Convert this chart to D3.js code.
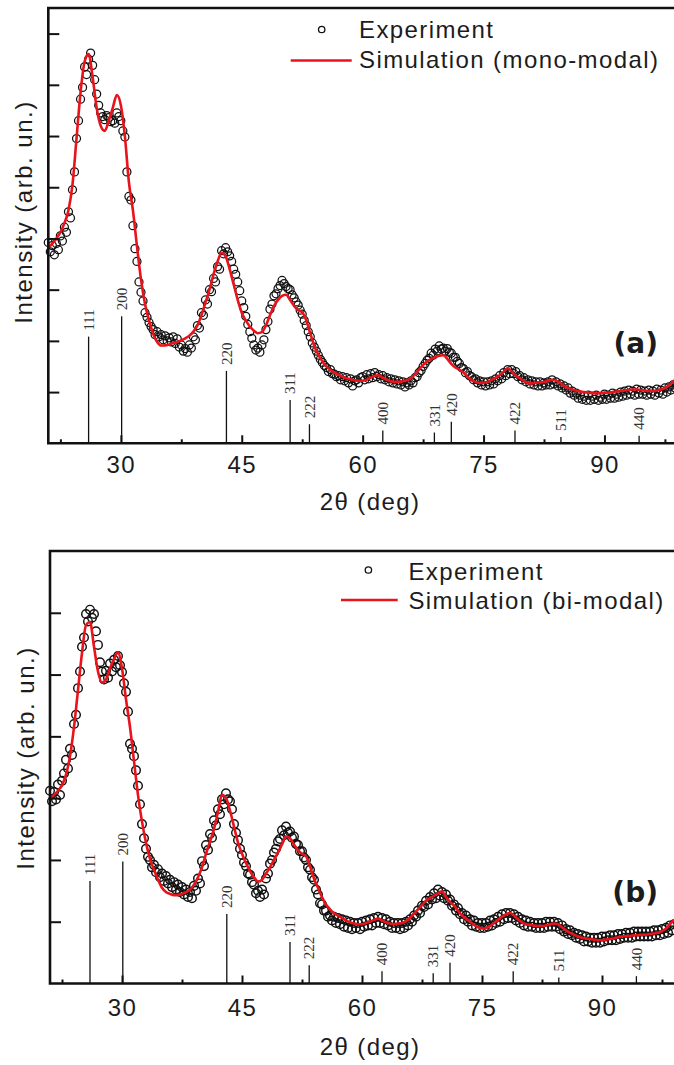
<!DOCTYPE html>
<html>
<head>
<meta charset="utf-8">
<script src="https://cdn.jsdelivr.net/npm/d3@7"></script>
<style>
  body { margin: 0; background: #fff; }
  svg { display: block; }
</style>
</head>
<body>
<div id="app"></div>
<script>
// measured patterns, 2theta grid 21..99
var expStart = 21, expStep = 0.25;
var simStart = 21, simStep = 0.5;

var expTop = [
  3.92, 3.74, 3.86, 3.68, 3.90, 3.78, 4.05, 3.95,
  4.22, 4.12, 4.52, 4.40, 4.95, 5.30, 5.95, 6.30,
  6.72, 6.95, 7.35, 7.20, 7.50, 7.62, 7.38, 7.10,
  6.82, 6.60, 6.45, 6.38, 6.32, 6.40, 6.36, 6.28,
  6.30, 6.25, 6.45, 6.38, 6.30, 6.10, 5.98, 5.30,
  4.82, 4.75, 4.25, 3.80, 3.55, 3.15, 2.95, 2.78,
  2.55, 2.46, 2.36, 2.28, 2.22, 2.12, 2.18, 2.08,
  2.12, 2.02, 2.10, 2.00, 2.06, 1.98, 2.08, 1.95,
  2.04, 1.88, 1.92, 1.80, 1.85, 1.78, 1.92, 1.86,
  2.08, 2.02, 2.30, 2.25, 2.55, 2.50, 2.80, 2.72,
  3.00, 2.96, 3.22, 3.15, 3.45, 3.40, 3.76, 3.70,
  3.82, 3.74, 3.66, 3.55, 3.40, 3.30, 3.15, 2.98,
  2.78, 2.65, 2.48, 2.32, 2.18, 2.05, 1.92, 1.82,
  1.86, 1.78, 1.92, 2.02, 2.22, 2.38, 2.62, 2.72,
  2.88, 2.92, 3.02, 3.08, 3.18, 3.12, 3.06, 3.02,
  3.00, 2.90, 2.84, 2.76, 2.70, 2.60, 2.52, 2.40,
  2.30, 2.18, 2.08, 1.96, 1.88, 1.80, 1.72, 1.64,
  1.58, 1.52, 1.48, 1.40, 1.44, 1.36, 1.35, 1.30,
  1.32, 1.24, 1.30, 1.22, 1.28, 1.18, 1.26, 1.12,
  1.22, 1.24, 1.18, 1.28, 1.30, 1.24, 1.34, 1.26,
  1.36, 1.28, 1.38, 1.30, 1.34, 1.26, 1.32, 1.24,
  1.28, 1.20, 1.26, 1.18, 1.24, 1.16, 1.22, 1.14,
  1.20, 1.10, 1.18, 1.14, 1.22, 1.18, 1.28, 1.30,
  1.38, 1.42, 1.50, 1.56, 1.62, 1.66, 1.76, 1.72,
  1.84, 1.80, 1.90, 1.84, 1.86, 1.80, 1.85, 1.78,
  1.76, 1.68, 1.68, 1.60, 1.56, 1.48, 1.46, 1.38,
  1.40, 1.32, 1.30, 1.24, 1.26, 1.18, 1.22, 1.14,
  1.20, 1.12, 1.20, 1.14, 1.22, 1.16, 1.26, 1.22,
  1.32, 1.26, 1.38, 1.32, 1.44, 1.36, 1.44, 1.36,
  1.40, 1.30, 1.32, 1.24, 1.28, 1.20, 1.24, 1.16,
  1.22, 1.14, 1.20, 1.12, 1.20, 1.12, 1.18, 1.14,
  1.20, 1.14, 1.24, 1.16, 1.20, 1.12, 1.16, 1.08,
  1.12, 1.04, 1.08, 0.98, 1.02, 0.94, 0.98, 0.88,
  0.94, 0.86, 0.92, 0.84, 0.94, 0.84, 0.92, 0.86,
  0.94, 0.84, 0.90, 0.86, 0.96, 0.86, 0.94, 0.88,
  0.98, 0.88, 0.96, 0.90, 1.00, 0.92, 1.02, 0.94,
  1.04, 0.96, 1.02, 0.94, 1.06, 0.96, 1.04, 0.96,
  1.02, 0.94, 1.04, 0.96, 1.02, 0.94, 1.06, 0.98,
  1.04, 0.96, 1.08, 1.00, 1.10, 1.04, 1.14, 1.08,
  1.16
];

var simTop = [
  3.83, 3.90, 4.00, 4.12, 4.30, 4.55, 5.05, 5.95, 6.85, 7.45,
  7.60, 7.15, 6.55, 6.20, 6.10, 6.30, 6.55, 6.80, 6.60, 6.00,
  5.10, 4.55, 3.85, 3.20, 2.72, 2.40, 2.14, 1.98, 1.91, 1.91,
  1.93, 1.96, 1.98, 2.01, 2.05, 2.10, 2.18, 2.30, 2.50, 2.75,
  3.00, 3.30, 3.55, 3.72, 3.65, 3.40, 3.10, 2.80, 2.55, 2.40,
  2.28, 2.20, 2.15, 2.17, 2.30, 2.50, 2.68, 2.80, 2.88, 2.90,
  2.80, 2.68, 2.60, 2.56, 2.40, 2.15, 1.90, 1.73, 1.60, 1.50,
  1.43, 1.38, 1.34, 1.30, 1.27, 1.25, 1.23, 1.22, 1.22, 1.24,
  1.28, 1.32, 1.33, 1.28, 1.24, 1.21, 1.20, 1.20, 1.21, 1.23,
  1.27, 1.35, 1.44, 1.53, 1.60, 1.65, 1.68, 1.71, 1.72, 1.65,
  1.55, 1.48, 1.44, 1.38, 1.30, 1.24, 1.20, 1.18, 1.18, 1.20,
  1.24, 1.28, 1.33, 1.40, 1.47, 1.40, 1.32, 1.27, 1.22, 1.18,
  1.17, 1.18, 1.19, 1.20, 1.22, 1.24, 1.22, 1.18, 1.12, 1.08,
  1.05, 1.03, 1.01, 1.00, 0.99, 0.98, 0.98, 0.98, 0.99, 0.99,
  1.00, 1.01, 1.02, 1.03, 1.04, 1.05, 1.05, 1.04, 1.03, 1.02,
  1.02, 1.03, 1.05, 1.08, 1.13, 1.20, 1.28
];

var expBottom = [
  3.12, 2.95, 3.10, 2.98, 3.22, 3.05, 3.28, 3.40,
  3.62, 3.48, 3.80, 3.70, 4.20, 4.35, 4.78, 5.05,
  5.45, 5.60, 5.98, 5.86, 6.05, 5.92, 5.98, 5.70,
  5.48, 5.20, 5.05, 4.92, 5.06, 4.95, 5.18, 5.05,
  5.24, 5.12, 5.30, 5.15, 5.04, 4.86, 4.72, 4.40,
  3.88, 3.80, 3.68, 3.45, 3.20, 2.90, 2.58, 2.35,
  2.18, 2.05, 2.00, 1.88, 1.92, 1.80, 1.85, 1.72,
  1.78, 1.66, 1.74, 1.62, 1.68, 1.56, 1.64, 1.52,
  1.60, 1.48, 1.56, 1.44, 1.52, 1.40, 1.48, 1.38,
  1.58, 1.50, 1.70, 1.62, 1.98, 1.90, 2.24, 2.16,
  2.42, 2.36, 2.64, 2.56, 2.82, 2.74, 2.98, 2.90,
  3.08, 2.98, 2.95, 2.82, 2.58, 2.44, 2.32, 2.18,
  2.08, 1.96, 1.90, 1.78, 1.76, 1.64, 1.60, 1.46,
  1.50, 1.40, 1.52, 1.44, 1.70, 1.78, 1.94, 2.00,
  2.12, 2.18, 2.30, 2.34, 2.48, 2.40, 2.54, 2.44,
  2.46, 2.36, 2.38, 2.26, 2.24, 2.14, 2.14, 2.04,
  2.00, 1.88, 1.84, 1.72, 1.68, 1.52, 1.44, 1.30,
  1.28, 1.18, 1.18, 1.08, 1.10, 1.02, 1.08, 0.98,
  1.06, 0.96, 1.04, 0.92, 1.02, 0.90, 1.00, 0.88,
  0.98, 0.90, 0.98, 0.88, 1.00, 0.92, 1.02, 0.94,
  1.04, 0.94, 1.06, 0.98, 1.08, 0.98, 1.06, 0.96,
  1.04, 0.94, 1.00, 0.90, 0.98, 0.90, 0.98, 0.88,
  0.98, 0.90, 1.00, 0.94, 1.04, 1.00, 1.10, 1.08,
  1.18, 1.14, 1.26, 1.24, 1.34, 1.28, 1.40, 1.36,
  1.46, 1.38, 1.52, 1.42, 1.48, 1.38, 1.44, 1.34,
  1.36, 1.26, 1.28, 1.18, 1.22, 1.12, 1.14, 1.04,
  1.10, 1.00, 1.04, 0.94, 1.02, 0.92, 0.98, 0.90,
  0.98, 0.90, 0.98, 0.92, 1.02, 0.94, 1.04, 0.98,
  1.08, 1.00, 1.12, 1.04, 1.14, 1.06, 1.14, 1.06,
  1.12, 1.02, 1.08, 0.98, 1.04, 0.94, 1.02, 0.92,
  1.00, 0.92, 0.98, 0.90, 0.98, 0.90, 0.98, 0.90,
  1.00, 0.92, 1.00, 0.92, 1.00, 0.92, 0.98, 0.88,
  0.94, 0.84, 0.88, 0.80, 0.86, 0.78, 0.82, 0.74,
  0.80, 0.72, 0.78, 0.68, 0.76, 0.68, 0.74, 0.66,
  0.74, 0.66, 0.74, 0.66, 0.76, 0.68, 0.76, 0.70,
  0.78, 0.70, 0.78, 0.70, 0.80, 0.72, 0.80, 0.74,
  0.82, 0.74, 0.82, 0.74, 0.84, 0.76, 0.84, 0.76,
  0.84, 0.76, 0.84, 0.76, 0.84, 0.76, 0.86, 0.78,
  0.86, 0.78, 0.88, 0.80, 0.90, 0.82, 0.94, 0.86,
  0.96
];

var simBottom = [
  3.00, 3.05, 3.12, 3.21, 3.38, 3.68, 4.15, 4.75, 5.35, 5.80,
  5.85, 5.45, 5.05, 4.87, 4.92, 5.10, 5.25, 5.36, 5.10, 4.60,
  4.15, 3.60, 3.05, 2.62, 2.28, 2.02, 1.84, 1.68, 1.55, 1.48,
  1.45, 1.43, 1.43, 1.45, 1.48, 1.52, 1.60, 1.72, 1.88, 2.10,
  2.30, 2.50, 2.78, 3.05, 3.00, 2.80, 2.54, 2.28, 2.10, 1.95,
  1.82, 1.72, 1.65, 1.68, 1.78, 1.88, 2.00, 2.12, 2.25, 2.38,
  2.35, 2.25, 2.16, 2.10, 2.06, 1.90, 1.70, 1.55, 1.40, 1.28,
  1.20, 1.14, 1.10, 1.06, 1.02, 0.99, 0.97, 0.96, 0.96, 0.98,
  1.00, 1.03, 1.05, 1.02, 0.99, 0.97, 0.96, 0.97, 0.98, 1.01,
  1.06, 1.13, 1.20, 1.27, 1.34, 1.38, 1.42, 1.46, 1.49, 1.40,
  1.32, 1.26, 1.18, 1.10, 1.05, 1.00, 0.95, 0.91, 0.89, 0.90,
  0.93, 0.98, 1.03, 1.08, 1.12, 1.14, 1.10, 1.04, 0.99, 0.96,
  0.95, 0.94, 0.93, 0.93, 0.94, 0.96, 0.97, 0.96, 0.91, 0.86,
  0.82, 0.79, 0.76, 0.74, 0.73, 0.72, 0.71, 0.70, 0.70, 0.71,
  0.72, 0.73, 0.75, 0.76, 0.77, 0.77, 0.78, 0.78, 0.79, 0.79,
  0.80, 0.81, 0.82, 0.85, 0.89, 0.96, 1.03
];

// reference pattern (PbS)
var hklLabels = ['111', '200', '220', '311', '222', '400', '331', '420', '422', '511', '440'];
var hklTheta = [26.0, 30.1, 43.1, 51.0, 53.4, 62.5, 68.9, 71.0, 78.9, 84.6, 94.3];
var hklInt = [84, 100, 57, 34, 15, 10, 8.5, 17, 10, 5, 6];

var xTicks = [30, 45, 60, 75, 90];
var xMinor = [22.5, 37.5, 52.5, 67.5, 82.5, 97.5];

var W = 674, H = 1065;
var FONT = '"Liberation Sans", Arial, sans-serif';
var INK = '#1c1c1c';

var svg = d3.select('#app')
    .append('svg')
    .attr('width', W)
    .attr('height', H)

svg.append('rect').attr('width', W).attr('height', H).attr('fill', '#fff');

function panel(o) {
    var x = d3.scaleLinear().domain([21, 99]).range([o.left, o.right]);
    var y = d3.scaleLinear().domain([0, o.yMax]).range([o.bottom, o.top]);
    var h = d3.scaleLinear().domain([0, 100]).range([0, o.stickH]);
    var g = svg.append('g');

    // reference sticks
    g.selectAll('line.stick')
        .data(hklTheta)
        .enter()
        .append('line')
        .attr('x1', function (d) { return x(d) })
        .attr('x2', function (d) { return x(d) })
        .attr('y1', o.bottom)
        .attr('y2', function (d, i) { return o.bottom - h(hklInt[i]) })
        .attr('stroke', '#111')
        .attr('stroke-width', 1.3)

    g.selectAll('text.hkl')
        .data(hklTheta)
        .enter()
        .append('text')
        .attr('transform', function (d, i) {
            return 'translate(' + x(d) + ',' + (o.bottom - h(hklInt[i]) - 6) + ') rotate(-90)'
        })
        .attr('dy', '0.35em')
        .style('font-family', '"Liberation Serif", "Times New Roman", serif')
        .style('font-size', '15px')
        .style('fill', '#333')
        .text(function (d, i) { return hklLabels[i] })

    // experiment
    g.selectAll('circle.exp')
        .data(o.exp)
        .enter()
        .append('circle')
        .attr('cx', function (d, i) { return x(expStart + i * expStep) })
        .attr('cy', function (d) { return y(d) })
        .attr('r', o.r)
        .attr('fill', 'none')
        .attr('stroke', '#111')
        .attr('stroke-width', o.sw)

    // simulation
    var line = d3.line()
        .x(function (d, i) { return x(simStart + i * simStep) })
        .y(function (d) { return y(d) })
        .curve(d3.curveMonotoneX)
    g.append('path')
        .attr('d', line(o.sim))
        .attr('fill', 'none')
        .attr('stroke', '#e8131b')
        .attr('stroke-width', 2.6)

    // axes
    var yAxis = d3.axisLeft(y).tickValues(o.yTicks).tickSize(-11).tickSizeOuter(0).tickFormat('');
    g.append('g').attr('transform', 'translate(' + o.left + ',0)').call(yAxis);

    var xAxis = d3.axisBottom(x).tickValues(xTicks).tickSize(-8).tickSizeOuter(0).tickPadding(o.labPad);
    var xa = g.append('g').attr('transform', 'translate(0,' + o.bottom + ')').call(xAxis);
    xa.selectAll('text')
        .style('font-family', FONT)
        .style('font-size', '24px')
        .style('letter-spacing', '1.4px')
        .style('fill', INK)

    var xMin = d3.axisBottom(x).tickValues(xMinor).tickSize(-4).tickSizeOuter(0).tickFormat('');
    g.append('g').attr('transform', 'translate(0,' + o.bottom + ')').call(xMin);

    g.selectAll('.domain').remove();
    g.selectAll('.tick line').attr('stroke', '#111').attr('stroke-width', 2);

    // frame (right side is cut off in the figure)
    g.append('path')
        .attr('d', 'M' + (W + 10) + ',' + o.top + 'H' + o.left + 'V' + o.bottom + 'H' + (W + 10))
        .attr('fill', 'none')
        .attr('stroke', '#111')
        .attr('stroke-width', 2.6)

    // axis titles
    g.append('text')
        .attr('transform', 'translate(' + (o.left - 16) + ',' + o.ylabY + ') rotate(-90)')
        .attr('text-anchor', 'middle')
        .style('font-family', FONT)
        .style('font-size', '24px')
        .style('letter-spacing', '1.5px')
        .style('fill', INK)
        .text('Intensity (arb. un.)')

    g.append('text')
        .attr('x', 370)
        .attr('y', o.bottom + o.titleOff)
        .attr('text-anchor', 'middle')
        .style('font-family', FONT)
        .style('font-size', '24px')
        .style('letter-spacing', '1.4px')
        .style('fill', INK)
        .text('2θ (deg)')

    // legend
    var lg = o.legend;
    g.append('circle')
        .attr('cx', lg.cx).attr('cy', lg.cy).attr('r', 3.2)
        .attr('fill', 'none').attr('stroke', '#111').attr('stroke-width', 1.3)
    g.append('line')
        .attr('x1', lg.lx1).attr('x2', lg.lx2).attr('y1', lg.ly).attr('y2', lg.ly)
        .attr('stroke', '#e8131b').attr('stroke-width', 2.6)
    g.selectAll('text.leg')
        .data([['Experiment', lg.b1], [o.simName, lg.b2]])
        .enter()
        .append('text')
        .attr('x', lg.tx)
        .attr('y', function (d) { return d[1] })
        .style('font-family', FONT)
        .style('font-size', '24px')
        .style('letter-spacing', '1.4px')
        .style('fill', INK)
        .text(function (d) { return d[0] })

    // panel tag
    g.append('text')
        .attr('x', 658)
        .attr('y', o.tagY)
        .attr('text-anchor', 'end')
        .style('font-family', '"DejaVu Sans", sans-serif')
        .style('font-weight', 'bold')
        .style('font-size', '28px')
        .style('fill', INK)
        .text(o.tag)
}

panel({
    left: 48.3, right: 677, top: 8, bottom: 443.3,
    yMax: 8.5, yTicks: [1, 2, 3, 4, 5, 6, 7, 8],
    exp: expTop, sim: simTop, stickH: 127, r: 4, sw: 1.25,
    labPad: 12.5, titleOff: 67, ylabY: 212,
    simName: 'Simulation (mono-modal)',
    legend: { cx: 321.7, cy: 29.5, lx1: 290.7, lx2: 351.7, ly: 60.5, tx: 359, b1: 37.5, b2: 68.3 },
    tag: '(a)', tagY: 353
});

panel({
    left: 50, right: 674, top: 551, bottom: 983.5,
    yMax: 7, yTicks: [1, 2, 3, 4, 5, 6],
    exp: expBottom, sim: simBottom, stickH: 122, r: 4.3, sw: 1.45,
    labPad: 15.5, titleOff: 71.5, ylabY: 758,
    simName: 'Simulation (bi-modal)',
    legend: { cx: 368.4, cy: 570, lx1: 341, lx2: 397.7, ly: 600, tx: 408.4, b1: 580, b2: 609.3 },
    tag: '(b)', tagY: 901.5
});
</script>
</body>
</html>
